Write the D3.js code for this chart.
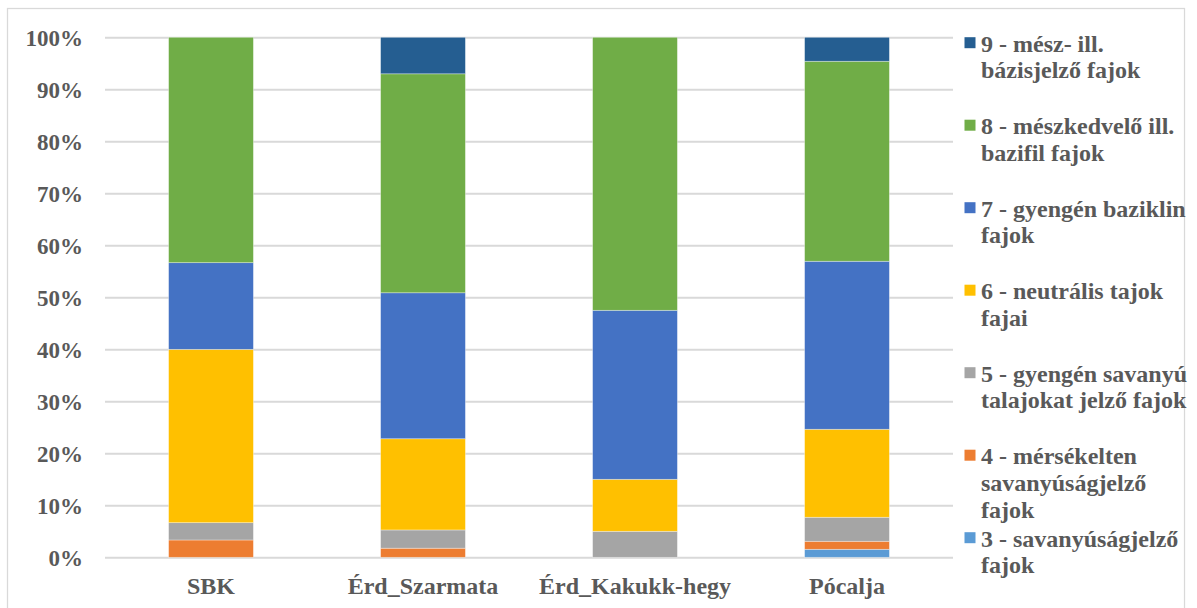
<!DOCTYPE html>
<html>
<head>
<meta charset="utf-8">
<script src="https://cdn.jsdelivr.net/npm/d3@7"></script>
</head>
<body style="margin:0;background:#fff">
<svg id="chart" width="1197" height="608" style="display:block"></svg>
<script>
// Sites (x-axis categories)
const categories = ["SBK", "Érd_Szarmata", "Érd_Kakukk-hegy", "Pócalja"];

// Share of species per soil-reaction indicator class (%), bottom to top of each stack
const seriesNames = [
  "3 - savanyúságjelző fajok",
  "4 - mérsékelten savanyúságjelző fajok",
  "5 - gyengén savanyú talajokat jelző fajok",
  "6 - neutrális tajok fajai",
  "7 - gyengén baziklin fajok",
  "8 - mészkedvelő ill. bazifil fajok",
  "9 - mész- ill. bázisjelző fajok"
];
const r3 = [0, 0, 0, 1.54];
const r4 = [3.33, 1.75, 0, 1.54];
const r5 = [3.33, 3.51, 5.0, 4.62];
const r6 = [33.33, 17.54, 10.0, 16.92];
const r7 = [16.67, 28.07, 32.5, 32.31];
const r8 = [43.34, 42.11, 52.5, 38.46];
const r9 = [0, 7.02, 0, 4.61];
const seriesValues = [r3, r4, r5, r6, r7, r8, r9];
const seriesColors = ["#5B9BD5", "#ED7D31", "#A5A5A5", "#FFC000", "#4472C4", "#70AD47", "#255E91"];

// Y axis ticks
const yTicks = [0, 0.1, 0.2, 0.3, 0.4, 0.5, 0.6, 0.7, 0.8, 0.9, 1.0];

const FONT = '"Liberation Serif"';
const TEXT_COLOR = "#595959";

function styleText(sel, size) {
  sel.style("font-family", FONT)
    .style("font-weight", "bold")
    .style("font-size", size + "px")
    .style("fill", TEXT_COLOR);
}

const svg = d3.select("#chart");

// Chart area frame
svg.append("rect")
  .attr("x", 7.5).attr("y", 8.5)
  .attr("width", 1177).attr("height", 640)
  .attr("fill", "none").attr("stroke", "#d9d9d9").attr("stroke-width", 1.25);

const plot = { left: 105, right: 953, top: 37.3, bottom: 557.3 };

const x = d3.scaleBand()
  .domain(categories)
  .range([plot.left, plot.right])
  .paddingInner(0.6)
  .paddingOuter(0.3);

const y = d3.scaleLinear().domain([0, 1]).range([plot.bottom, plot.top]);

// Gridlines + percentage labels
const yAxis = svg.append("g")
  .attr("transform", `translate(${plot.left},0)`)
  .call(d3.axisLeft(y)
    .tickValues(yTicks)
    .tickSize(-(plot.right - plot.left))
    .tickPadding(22)
    .tickFormat(d3.format(".0%")));
yAxis.select(".domain").remove();
yAxis.selectAll(".tick line").attr("stroke", "#d9d9d9").attr("stroke-width", 2);
yAxis.selectAll(".tick text")
  .call(styleText, 23)
  .attr("dy", "0.34em");

// Stack the data into 100% columns
const rows = categories.map((c, i) => {
  const o = { category: c };
  seriesNames.forEach((s, j) => { o[s] = seriesValues[j][i]; });
  return o;
});
const stacked = d3.stack().keys(seriesNames).offset(d3.stackOffsetExpand)(rows);

svg.append("g")
  .selectAll("g")
  .data(stacked)
  .join("g")
  .attr("fill", (d, i) => seriesColors[i])
  .selectAll("rect")
  .data(d => d)
  .join("rect")
  .attr("x", d => x(d.data.category))
  .attr("width", x.bandwidth())
  .attr("y", d => y(d[1]))
  .attr("height", d => Math.max(0, y(d[0]) - y(d[1])))
  .attr("stroke", "#ffffff")
  .attr("stroke-opacity", 0.45)
  .attr("stroke-width", 0.75);

// Category labels
const xAxis = svg.append("g")
  .attr("transform", `translate(0,${plot.bottom})`)
  .call(d3.axisBottom(x).tickSize(0).tickPadding(20));
xAxis.select(".domain").remove();
xAxis.selectAll(".tick text")
  .call(styleText, 24)
  .attr("dy", "0.71em");

// Legend, top class first, text wrapped to the available width
const legend = svg.append("g");
const legendOrder = d3.range(seriesNames.length).reverse();
const maxTextWidth = 212;
legendOrder.forEach((si, k) => {
  const cy = 42.7 + k * 82.5;
  legend.append("rect")
    .attr("x", 964.5).attr("y", cy - 5.5)
    .attr("width", 11).attr("height", 11)
    .attr("fill", seriesColors[si]);
  const t = legend.append("text")
    .attr("x", 981).attr("y", cy + 8.8)
    .call(styleText, 24);
  const words = seriesNames[si].split(" ");
  let line = [];
  let tspan = t.append("tspan").attr("x", 981).attr("dy", 0);
  words.forEach(w => {
    line.push(w);
    tspan.text(line.join(" "));
    if (tspan.node().getComputedTextLength() > maxTextWidth && line.length > 1) {
      line.pop();
      tspan.text(line.join(" "));
      line = [w];
      tspan = t.append("tspan").attr("x", 981).attr("dy", 26.8).text(w);
    }
  });
});
</script>
</body>
</html>
